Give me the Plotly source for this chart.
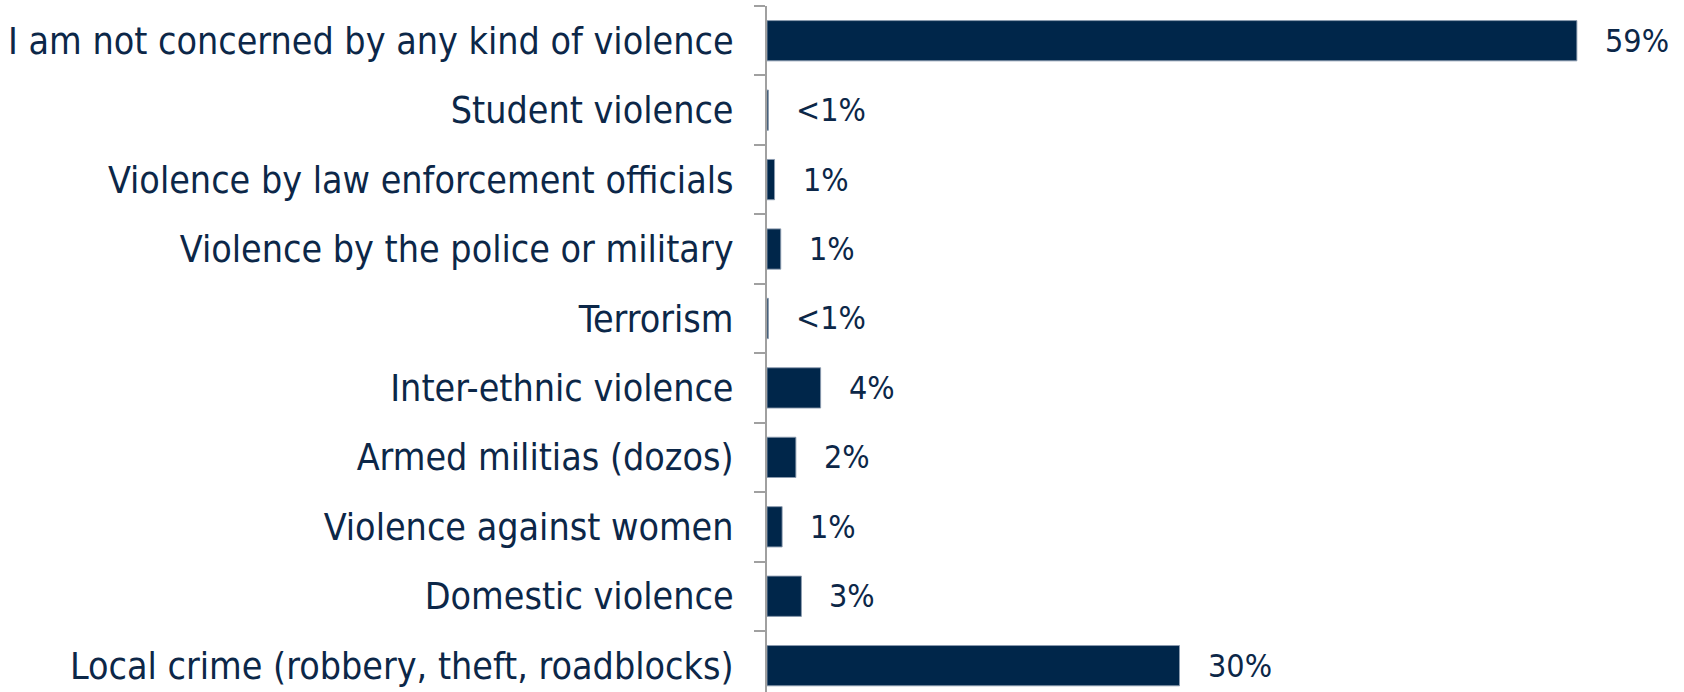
import plotly.graph_objects as go

categories = [
    "I am not concerned by any kind of violence",
    "Student violence",
    "Violence by law enforcement officials",
    "Violence by the police or military",
    "Terrorism",
    "Inter-ethnic violence",
    "Armed militias (dozos)",
    "Violence against women",
    "Domestic violence",
    "Local crime (robbery, theft, roadblocks)",
]
values = [58.9, 0.1, 0.55, 1.0, 0.1, 3.9, 2.1, 1.1, 2.5, 30.0]
labels = ["59%", "<1%", "1%", "1%", "<1%", "4%", "2%", "1%", "3%", "30%"]

NAVY = "#00264A"
TEXT = "#0C2748"

fig = go.Figure()
fig.add_trace(go.Bar(
    x=values,
    y=categories,
    orientation="h",
    marker=dict(color=NAVY, line=dict(color="rgba(140,155,175,0.9)", width=1)),
    hoverinfo="skip",
))

for v, c, t in zip(values, categories, labels):
    fig.add_annotation(
        x=v, y=c, text=t, showarrow=False, xanchor="left", yanchor="middle",
        xshift=26, font=dict(family="DejaVu Sans Condensed", size=32, color=TEXT),
    )

fig.update_layout(
    width=1684, height=692,
    margin=dict(l=767, r=0, t=6, b=0, autoexpand=False),
    paper_bgcolor="white", plot_bgcolor="white",
    bargap=0.42,
    showlegend=False,
    font=dict(family="DejaVu Sans Condensed", size=37, color=TEXT),
)
fig.update_xaxes(
    range=[0, 66.69], visible=False, showgrid=False, zeroline=False,
)
fig.update_yaxes(
    type="category",
    categoryorder="array", categoryarray=categories,
    range=[9.379, -0.5], autorange=False,
    showline=True, linecolor="#A0A0A0", linewidth=2,
    ticks="outside", ticklen=11, tickwidth=2, tickcolor="#A0A0A0",
    tickson="boundaries",
    showgrid=False, zeroline=False,
    ticklabelstandoff=24,
    tickfont=dict(family="DejaVu Sans Condensed", size=37.3, color=TEXT),
)

fig.write_html(
    "out.html",
    config={"displayModeBar": False},
    post_script="document.body.style.margin='0';document.body.style.overflow='hidden';",
)
